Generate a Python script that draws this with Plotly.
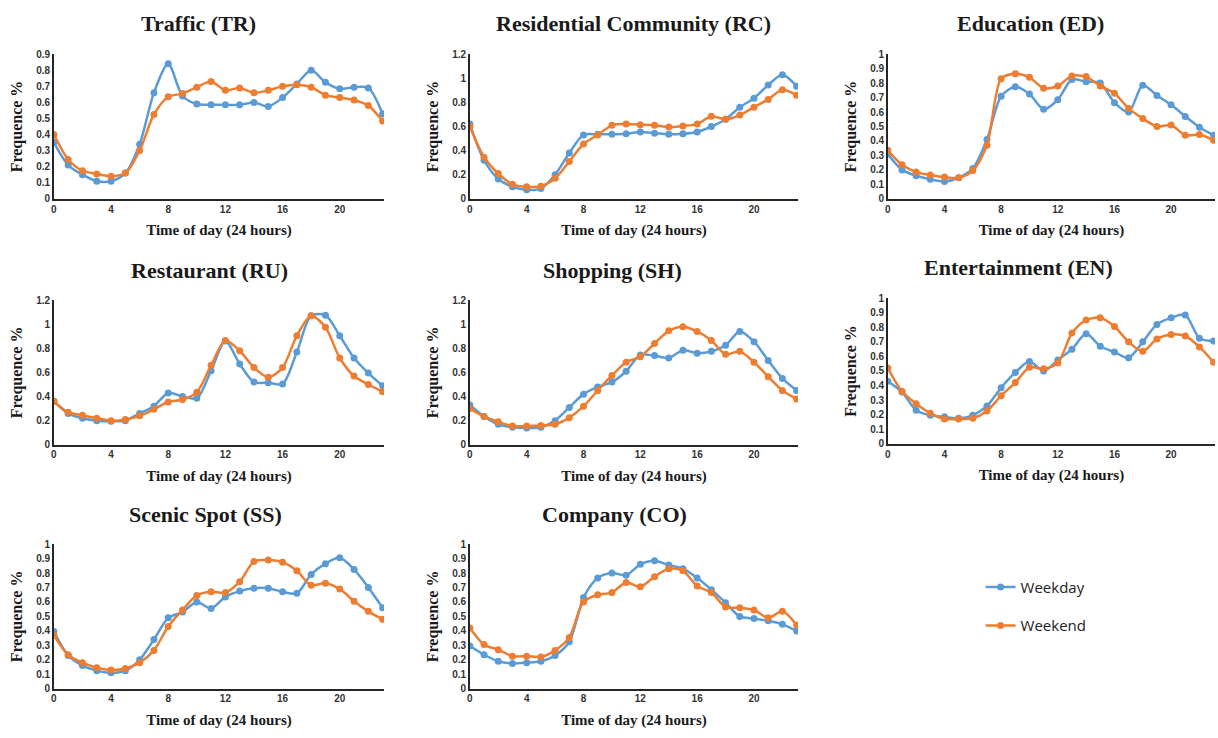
import plotly.graph_objects as go

hours = list(range(24))
series_names = ["Weekday", "Weekend"]
colors = ["#5B9BD5", "#ED7D31"]

titles = ["Traffic (TR)", "Residential Community (RC)", "Education (ED)",
          "Restaurant (RU)", "Shopping (SH)", "Entertainment (EN)",
          "Scenic Spot (SS)", "Company (CO)"]

tr_weekday = [0.35, 0.21, 0.15, 0.11, 0.11, 0.16, 0.34, 0.66, 0.84, 0.64, 0.59, 0.585,
              0.585, 0.585, 0.60, 0.575, 0.63, 0.715, 0.80, 0.725, 0.685, 0.695, 0.69, 0.53]
tr_weekend = [0.40, 0.245, 0.175, 0.155, 0.14, 0.16, 0.30, 0.525, 0.635, 0.655, 0.695, 0.73,
              0.675, 0.69, 0.66, 0.675, 0.70, 0.71, 0.695, 0.645, 0.63, 0.615, 0.58, 0.485]

rc_weekday = [0.62, 0.32, 0.165, 0.10, 0.075, 0.085, 0.20, 0.38, 0.53, 0.535, 0.535, 0.54,
              0.555, 0.545, 0.535, 0.54, 0.555, 0.60, 0.66, 0.76, 0.835, 0.945, 1.03, 0.935]
rc_weekend = [0.60, 0.345, 0.21, 0.12, 0.10, 0.105, 0.17, 0.31, 0.455, 0.53, 0.61, 0.62,
              0.615, 0.61, 0.595, 0.605, 0.62, 0.685, 0.66, 0.695, 0.76, 0.825, 0.905, 0.86]

ed_weekday = [0.31, 0.20, 0.16, 0.135, 0.12, 0.145, 0.21, 0.41, 0.71, 0.775, 0.725, 0.62,
              0.685, 0.825, 0.81, 0.80, 0.665, 0.60, 0.785, 0.715, 0.65, 0.57, 0.495, 0.44]
ed_weekend = [0.335, 0.235, 0.185, 0.165, 0.15, 0.145, 0.195, 0.37, 0.83, 0.865, 0.84, 0.765,
              0.78, 0.85, 0.845, 0.78, 0.73, 0.625, 0.555, 0.50, 0.51, 0.44, 0.445, 0.405]

ru_weekday = [0.36, 0.26, 0.22, 0.20, 0.195, 0.20, 0.26, 0.32, 0.43, 0.40, 0.385, 0.615,
              0.86, 0.67, 0.52, 0.515, 0.505, 0.77, 1.07, 1.075, 0.905, 0.72, 0.595, 0.49]
ru_weekend = [0.36, 0.27, 0.245, 0.22, 0.20, 0.21, 0.24, 0.295, 0.355, 0.375, 0.435, 0.66,
              0.865, 0.78, 0.64, 0.56, 0.64, 0.905, 1.07, 0.975, 0.72, 0.57, 0.50, 0.44]

sh_weekday = [0.33, 0.235, 0.17, 0.145, 0.14, 0.145, 0.20, 0.31, 0.42, 0.48, 0.52, 0.61,
              0.745, 0.74, 0.72, 0.785, 0.76, 0.775, 0.825, 0.94, 0.855, 0.70, 0.55, 0.45]
sh_weekend = [0.30, 0.235, 0.19, 0.155, 0.155, 0.16, 0.17, 0.225, 0.32, 0.45, 0.575, 0.685,
              0.73, 0.84, 0.945, 0.98, 0.94, 0.865, 0.75, 0.775, 0.685, 0.565, 0.45, 0.38]

en_weekday = [0.43, 0.355, 0.23, 0.195, 0.185, 0.175, 0.195, 0.26, 0.385, 0.49, 0.565, 0.50,
              0.575, 0.65, 0.755, 0.67, 0.63, 0.59, 0.70, 0.82, 0.865, 0.885, 0.725, 0.705]
en_weekend = [0.52, 0.36, 0.275, 0.21, 0.17, 0.17, 0.175, 0.225, 0.33, 0.42, 0.525, 0.515,
              0.555, 0.76, 0.85, 0.865, 0.805, 0.70, 0.635, 0.72, 0.75, 0.74, 0.665, 0.56]

ss_weekday = [0.395, 0.23, 0.16, 0.125, 0.11, 0.125, 0.20, 0.34, 0.49, 0.53, 0.60, 0.555,
              0.635, 0.675, 0.695, 0.695, 0.67, 0.66, 0.79, 0.865, 0.905, 0.825, 0.70, 0.56]
ss_weekend = [0.37, 0.235, 0.18, 0.145, 0.13, 0.14, 0.18, 0.265, 0.43, 0.545, 0.645, 0.67,
              0.665, 0.74, 0.88, 0.89, 0.875, 0.815, 0.715, 0.73, 0.69, 0.605, 0.535, 0.48]

co_weekday = [0.295, 0.235, 0.19, 0.175, 0.18, 0.19, 0.23, 0.325, 0.63, 0.765, 0.80, 0.785,
              0.86, 0.885, 0.855, 0.83, 0.765, 0.685, 0.595, 0.50, 0.485, 0.47, 0.445, 0.40]
co_weekend = [0.42, 0.305, 0.27, 0.225, 0.225, 0.22, 0.265, 0.355, 0.60, 0.65, 0.665, 0.735,
              0.705, 0.775, 0.83, 0.815, 0.71, 0.665, 0.565, 0.56, 0.545, 0.49, 0.535, 0.44]

panel_data = [(tr_weekday, tr_weekend), (rc_weekday, rc_weekend), (ed_weekday, ed_weekend),
              (ru_weekday, ru_weekend), (sh_weekday, sh_weekend), (en_weekday, en_weekend),
              (ss_weekday, ss_weekend), (co_weekday, co_weekend)]
y_max = [0.9, 1.2, 1.0, 1.2, 1.2, 1.0, 1.0, 1.0]
y_step = [0.1, 0.2, 0.1, 0.2, 0.2, 0.1, 0.1, 0.1]

W, H = 1218, 738
# plot-area pixel boxes: (left, right, top, bottom)
boxes = [(51, 382, 49, 196), (468, 797, 49, 196), (887, 1215, 49, 196),
         (51, 382, 299, 446), (468, 797, 299, 446), (887, 1215, 297, 445),
         (51, 382, 547, 694), (468, 797, 547, 694)]
title_pos = [(196, 18), (632, 18), (1030, 18), (207, 269), (611, 269), (1018, 266),
             (203, 517), (613, 517)]

fig = go.Figure()
layout = dict(width=W, height=H, margin=dict(l=0, r=0, t=0, b=0),
              paper_bgcolor="white", plot_bgcolor="white", annotations=[])

serif = "Liberation Serif"
tickfont = dict(family="Liberation Sans", size=10, color="#333333")

for i, (wd, we) in enumerate(panel_data):
    n = "" if i == 0 else str(i + 1)
    xa, ya = "x" + n, "y" + n
    l, r, t, b = boxes[i]
    for j, vals in enumerate((wd, we)):
        fig.add_trace(go.Scatter(
            x=hours, y=vals, xaxis=xa, yaxis=ya, mode="lines+markers",
            name=series_names[j], legendgroup=series_names[j], showlegend=(i == 0),
            line=dict(color=colors[j], width=2.5, shape="spline", smoothing=0.8),
            marker=dict(color=colors[j], size=7)))
    layout["xaxis" + n] = dict(
        domain=[l / W, r / W], anchor=ya, range=[0, 23.1], tickmode="array",
        tickvals=[0, 4, 8, 12, 16, 20], ticktext=["<b>%d</b>" % v for v in [0, 4, 8, 12, 16, 20]],
        showgrid=False, zeroline=False, showline=True, linecolor="#262626", linewidth=1.5,
        ticks="", tickfont=tickfont,
        title=dict(text="<b>Time of day (24 hours)</b>", font=dict(family=serif, size=15, color="#1a1a1a"),
                   standoff=11))
    nticks = int(round(y_max[i] / y_step[i]))
    yv = [round(k * y_step[i], 2) for k in range(nticks + 1)]
    layout["yaxis" + n] = dict(
        domain=[1 - b / H, 1 - t / H], anchor=xa, range=[0, y_max[i]], tickmode="array",
        tickvals=yv, ticktext=["<b>%g</b>" % v for v in yv],
        showgrid=False, zeroline=False, showline=True, linecolor="#262626", linewidth=1.5,
        ticks="", tickfont=tickfont,
        title=dict(text="<b>Frequence %</b>", font=dict(family=serif, size=16, color="#1a1a1a"),
                   standoff=10))
    tx, ty = title_pos[i]
    layout["annotations"].append(dict(
        text="<b>%s</b>" % titles[i], x=tx / W, y=1 - ty / H,
        xref="paper", yref="paper", showarrow=False, xanchor="center", yanchor="middle",
        font=dict(family=serif, size=22, color="#1a1a1a")))

layout["legend"] = dict(x=980 / W, y=1 - 574 / H, xanchor="left", yanchor="top",
                        traceorder="grouped", tracegroupgap=16,
                        font=dict(family="Open Sans", size=15, color="#222222"),
                        bgcolor="rgba(0,0,0,0)", itemwidth=30)
fig.update_layout(**layout)
fig.write_html("out.html", config={"displayModeBar": False},
               post_script="document.body.style.margin='0px';document.body.style.overflow='hidden';")
